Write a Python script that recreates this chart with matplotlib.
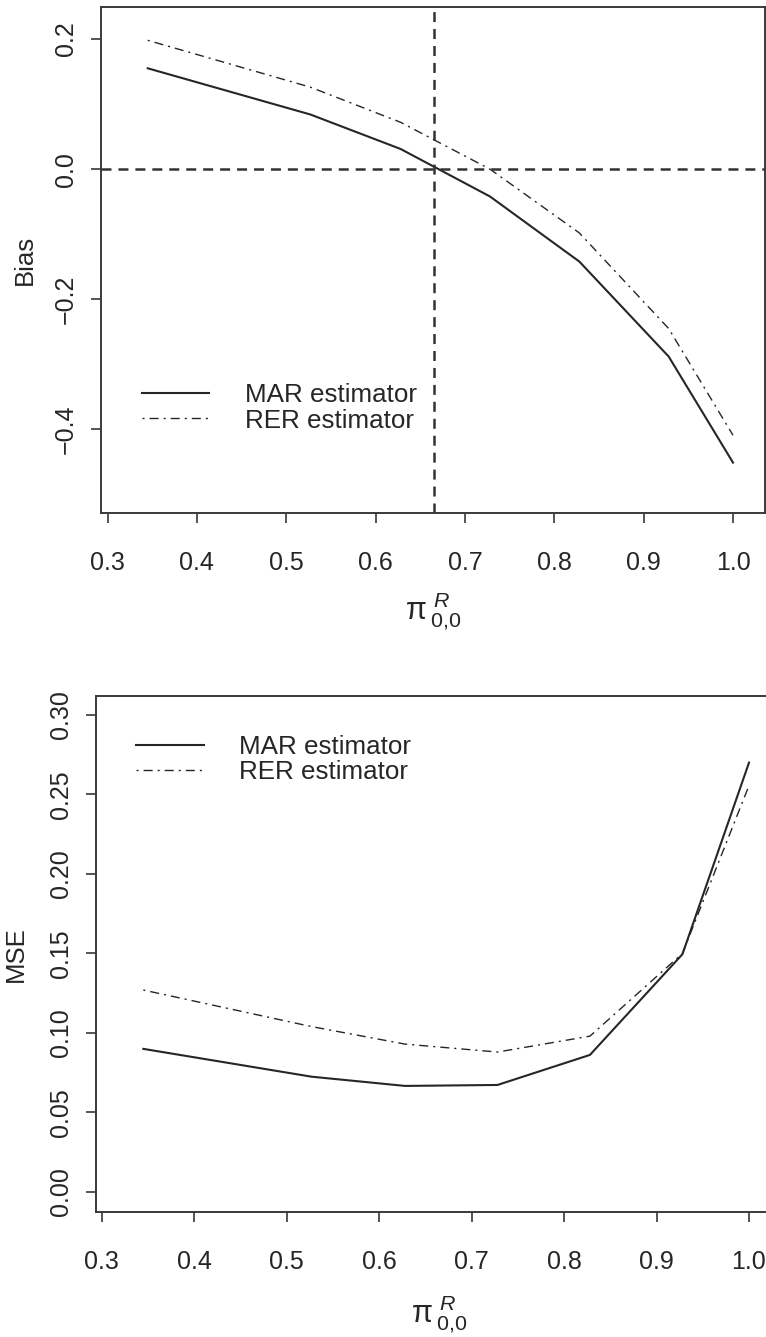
#!/usr/bin/env python
import matplotlib as mpl
mpl.use('Agg')
import matplotlib.pyplot as plt  # noqa

# values
pi_r = [0.345, 0.527, 0.628, 0.728, 0.828, 0.928, 1.0]
bias_mar = [0.155, 0.084, 0.031, -0.042, -0.142, -0.288, -0.451]
bias_rer = [0.198, 0.126, 0.072, 0.0, -0.098, -0.245, -0.409]
mse_mar = [0.090, 0.0725, 0.0667, 0.0673, 0.0862, 0.1495, 0.270]
mse_rer = [0.127, 0.104, 0.093, 0.088, 0.098, 0.150, 0.2556]
pi_cut = 0.665
series_labels = ['MAR estimator', 'RER estimator']

x_ticks = [0.3, 0.4, 0.5, 0.6, 0.7, 0.8, 0.9, 1.0]
x_ticklabels = ['0.3', '0.4', '0.5', '0.6', '0.7', '0.8', '0.9', '1.0']
bias_ticks = [-0.4, -0.2, 0.0, 0.2]
bias_ticklabels = ['\u22120.4', '\u22120.2', '0.0', '0.2']
mse_ticks = [0.0, 0.05, 0.10, 0.15, 0.20, 0.25, 0.30]
mse_ticklabels = ['0.00', '0.05', '0.10', '0.15', '0.20', '0.25', '0.30']

plt.rcParams['font.family'] = ['Liberation Sans', 'DejaVu Sans']
plt.rcParams['mathtext.fontset'] = 'custom'
plt.rcParams['mathtext.rm'] = 'Liberation Sans'
plt.rcParams['mathtext.it'] = 'Liberation Sans:italic'
plt.rcParams['lines.scale_dashes'] = False

INK = '#262626'
W, H = 766, 1337
XLABEL = r'${\mathrm{\pi}\,}_{\mathrm{0{,}0}}^{\,R}$'
DOTDASH = (0, (1.5, 3.6, 6.5, 3.6))
DASHED = (0, (7.2, 5.0))


def px_axes(fig, left, top, right, bottom):
    return fig.add_axes([left / W, 1 - bottom / H,
                         (right - left) / W, (bottom - top) / H])


def style(ax, yticks, yticklabels, ylabel, ylabel_x, xlabel_y):
    ax.set_xticks(x_ticks, x_ticklabels)
    ax.set_yticks(yticks, yticklabels)
    ax.tick_params(direction='out', length=7.2, width=1.1, color=INK,
                   labelsize=18, labelcolor=INK)
    ax.tick_params(axis='x', pad=20.5)
    ax.tick_params(axis='y', pad=9.5, labelrotation=90)
    for t in ax.yaxis.get_major_ticks():
        t.label1.set_va('center')
    for s in ax.spines.values():
        s.set_linewidth(1.4)
        s.set_color('#3a3a3a')
    ax.set_ylabel(ylabel, fontsize=18.5, color=INK)
    ax.yaxis.set_label_coords(ylabel_x, 0.5)
    ax.set_xlabel(XLABEL, fontsize=22, color=INK)
    ax.xaxis.set_label_coords(0.5, xlabel_y)


def curves(ax, mar, rer):
    ax.plot(pi_r, mar, color=INK, lw=1.5, label=series_labels[0])
    ax.plot(pi_r, rer, color=INK, lw=1.0, ls=DOTDASH,
            label=series_labels[1])


def legend(ax, x, y):
    leg = ax.legend(loc='center left', bbox_to_anchor=(x, y), frameon=False,
                    fontsize=18.7, handlelength=2.6, handletextpad=1.35,
                    labelspacing=0.05, borderpad=0, borderaxespad=0)
    for t in leg.get_texts():
        t.set_color(INK)


fig = plt.figure(figsize=(W / 100, H / 100), dpi=100)

# top panel: bias
ax1 = px_axes(fig, 101, 7, 765, 512.7)
curves(ax1, bias_mar, bias_rer)
ax1.axhline(0.0, color='#333333', lw=1.8, ls=DASHED)
ax1.axvline(pi_cut, color='#333333', lw=1.8, ls=DASHED)
ax1.set_xlim(0.2927, 1.0358)
ax1.set_ylim(-0.528, 0.2492)
style(ax1, bias_ticks, bias_ticklabels, 'Bias', -0.0964, -0.153)
legend(ax1, 0.0617, 0.2072)

# bottom panel: MSE
ax2 = px_axes(fig, 95.7, 695.7, 782.1, 1211.7)
curves(ax2, mse_mar, mse_rer)
ax2.set_xlim(0.29351, 1.0358)
ax2.set_ylim(-0.0124, 0.3121)
style(ax2, mse_ticks, mse_ticklabels, 'MSE', -0.0988, -0.158)
legend(ax2, 0.0588, 0.8764)

fig.savefig('out.png', dpi=100)
plt.close(fig)
